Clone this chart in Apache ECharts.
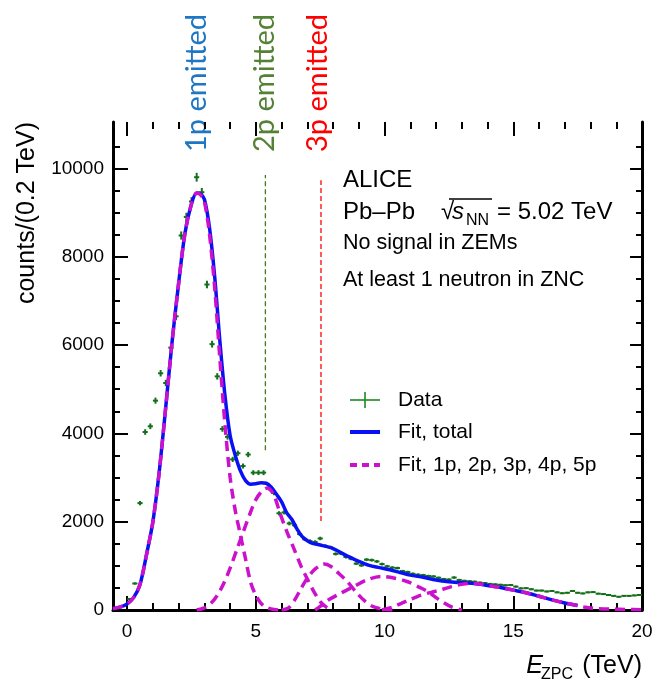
<!DOCTYPE html>
<html><head><meta charset="utf-8">
<script src="https://cdn.jsdelivr.net/npm/echarts@6/dist/echarts.min.js"></script>
<style>html,body{margin:0;padding:0;background:#fff}#c{width:657px;height:684px}</style>
</head><body><div id="c"></div>
<script>
// ---- data ----
const binCenters = [0.1,0.3,0.5,0.7,0.9,1.1,1.3,1.5,1.7,1.9,2.1,2.3,2.5,2.7,2.9,3.1,3.3,3.5,3.7,3.9,
  4.1,4.3,4.5,4.7,4.9,5.1,5.3,5.5,5.7,5.9,6.1,6.3,6.5,6.7,6.9,7.1,7.3,7.5,7.7,7.9,
  8.1,8.3,8.5,8.7,8.9,9.1,9.3,9.5,9.7,9.9,10.1,10.3,10.5,10.7,10.9,11.1,11.3,11.5,11.7,11.9,
  12.1,12.3,12.5,12.7,12.9,13.1,13.3,13.5,13.7,13.9,14.1,14.3,14.5,14.7,14.9,15.1,15.3,15.5,15.7,15.9,
  16.1,16.3,16.5,16.7,16.9,17.1,17.3,17.5,17.7,17.9,18.1,18.3,18.5,18.7,18.9,19.1,19.3,19.5,19.7,19.9];
const dataCounts = [250,600,2420,4030,4160,4740,5360,5140,5940,6650,8480,8900,9250,9800,9460,7370,6020,5290,4100,3920,
  3410,3550,3260,3520,3110,3110,3110,2760,2650,2190,2210,1960,1920,1720,1600,1560,1540,1620,1450,1420,
  1270,1280,1200,1160,1050,1010,1140,1130,1100,1040,990,960,950,880,860,820,800,790,770,760,
  730,700,690,735,680,660,650,640,620,610,590,580,570,560,565,530,490,495,470,440,
  440,420,430,400,380,390,430,390,375,400,405,370,360,340,320,300,320,320,330,340];

const fitTotal = [[-0.55,30],[-0.25,70],[0,140],[0.25,280],[0.5,580],[0.75,1250],[1.0,2000],[1.25,3150],[1.5,4600],
  [1.75,6100],[2.0,7400],[2.25,8550],[2.5,9200],[2.7,9440],[2.85,9420],[3.0,9300],[3.2,8650],[3.4,7550],[3.6,6100],
  [3.8,4850],[4.0,3950],[4.2,3500],[4.4,3150],[4.6,2930],[4.8,2850],[5.0,2860],[5.2,2880],[5.4,2870],[5.6,2780],
  [5.8,2620],[6.0,2450],[6.2,2200],[6.4,2050],[6.6,1830],[6.8,1660],[7.0,1570],[7.2,1510],[7.5,1470],[7.8,1430],
  [8.0,1390],[8.3,1300],[8.6,1210],[9.0,1100],[9.4,1010],[9.8,960],[10.2,910],[10.6,850],[11.0,790],[11.5,740],
  [12.0,680],[12.5,640],[13.0,615],[13.5,600],[14.0,555],[14.5,510],[15.0,450],[15.5,390],[16.0,310],[16.5,230],
  [17.0,160],[17.5,100]];
const fit1p = [[-0.55,30],[-0.25,70],[0,140],[0.25,280],[0.5,580],[0.75,1250],[1.0,2000],[1.25,3150],[1.5,4600],
  [1.75,6100],[2.0,7400],[2.25,8550],[2.5,9200],[2.7,9440],[2.85,9400],[3.0,9250],[3.2,8500],[3.4,7300],[3.6,5700],
  [3.8,4200],[4.0,3000],[4.2,2250],[4.4,1700],[4.6,1150],[4.8,620],[5.0,330],[5.2,150],[5.4,60],[5.7,10],[6.0,0]];
const fit2p = [[2.7,0],[3.0,50],[3.25,150],[3.5,330],[3.75,600],[4.0,950],[4.25,1350],[4.5,1750],[4.75,2150],[5.0,2500],
  [5.25,2700],[5.45,2760],[5.7,2600],[5.95,2170],[6.2,1780],[6.47,1400],[6.75,1000],[7.0,700],[7.25,420],[7.5,190],
  [7.75,60],[8.0,0]];
const fit3p = [[6.0,0],[6.25,40],[6.5,220],[6.75,480],[7.0,720],[7.25,900],[7.5,1010],[7.65,1040],[7.9,990],[8.2,840],
  [8.56,640],[8.9,400],[9.2,220],[9.5,90],[9.9,20],[10.3,0]];
const fit4p = [[7.3,0],[7.5,80],[7.8,220],[8.3,380],[8.8,530],[9.3,680],[9.86,760],[10.4,720],[10.9,640],[11.3,530],
  [11.7,410],[12.1,240],[12.6,70],[13.0,0]];
const fit5p = [[9.9,0],[10.3,60],[10.65,150],[11.0,240],[11.43,340],[11.8,400],[12.2,460],[12.6,530],[13.0,580],
  [13.3,600],[13.7,590],[14.0,555],[14.5,510],[15.0,450],[15.5,390],[16.0,310],[16.5,230],[17.0,160],[17.5,100],
  [17.8,60],[18.2,35],[18.8,20],[19.4,12],[20,8]];
const line2p = [[5.37,3620],[5.37,9850]];
const line3p = [[7.53,2014],[7.53,9730]];

const xMajorTicks = [0,5,10,15,20];
const xMinorTicks = [1,2,3,4,6,7,8,9,11,12,13,14,16,17,18,19];
const yMajorTicks = [0,2000,4000,6000,8000,10000];
const yMinorTicks = [500,1000,1500,2500,3000,3500,4500,5000,5500,6500,7000,7500,8500,9000,9500,10500];

// ---- chart ----
const FF = '"Liberation Sans", Arial, sans-serif';
const GREEN = '#13701a', BLUE = '#0a10f4', MAG = '#cc11cc';
const X_MIN = -0.55, X_MAX = 20, Y_MIN = 0, Y_MAX = 11050;
const gridRect = {left:113, right:15, top:122, bottom:74};
const grids = [0,1,2,3].map(() => Object.assign({}, gridRect));
const plain = v => String(v);

function xAx(gi, pos, ticks, len, labels, line) {
  return {gridIndex:gi, type:'value', min:X_MIN, max:X_MAX, position:pos,
    axisLine:{show:line, onZero:false, lineStyle:{color:'#000', width:3}},
    axisTick:{show:true, inside:true, length:len, customValues:ticks, lineStyle:{color:'#000', width:2}},
    axisLabel:labels ? {show:true, customValues:ticks, formatter:plain, fontSize:19, fontFamily:FF, color:'#000', margin:12} : {show:false},
    splitLine:{show:false}};
}
function yAx(gi, pos, ticks, len, labels, line) {
  return {gridIndex:gi, type:'value', min:Y_MIN, max:Y_MAX, position:pos,
    axisLine:{show:line, onZero:false, lineStyle:{color:'#000', width:3}},
    axisTick:{show:true, inside:true, length:len, customValues:ticks, lineStyle:{color:'#000', width:2}},
    axisLabel:labels ? {show:true, customValues:ticks, formatter:plain, fontSize:19, fontFamily:FF, color:'#000', margin:9} : {show:false},
    splitLine:{show:false}};
}

const dataPoints = binCenters.map((x, i) => [x, dataCounts[i]]);

function renderData(params, api) {
  const x = api.value(0), y = api.value(1);
  const c = api.coord([x, y]);
  const l = api.coord([x - 0.1, y]), r = api.coord([x + 0.1, y]);
  const e = Math.sqrt(y);
  const t = api.coord([x, y + e]), b = api.coord([x, y - e]);
  return {type:'group', children:[
    {type:'line', shape:{x1:l[0], y1:c[1], x2:r[0], y2:c[1]}, style:{stroke:GREEN, lineWidth:2}},
    {type:'line', shape:{x1:c[0], y1:t[1], x2:c[0], y2:b[1]}, style:{stroke:GREEN, lineWidth:2}}
  ]};
}

function comp(d) {
  return {type:'line', name:'Fit, 1p, 2p, 3p, 4p, 5p', xAxisIndex:0, yAxisIndex:0, data:d, smooth:0.3,
    symbol:'none', z:4, lineStyle:{color:MAG, width:3.5, type:[10,6]}};
}

const option = {
  animation:false,
  backgroundColor:'#fff',
  grid:grids,
  xAxis:[xAx(0,'bottom',xMajorTicks,14,true,true), xAx(1,'top',xMajorTicks,14,false,false),
         xAx(2,'bottom',xMinorTicks,7,false,false), xAx(3,'top',xMinorTicks,7,false,false)],
  yAxis:[yAx(0,'left',yMajorTicks,15,true,true), yAx(1,'right',yMajorTicks,12,false,true),
         yAx(2,'left',yMinorTicks,7,false,false), yAx(3,'right',yMinorTicks,6,false,false)],
  series:[
    {type:'line', name:'2p line', data:line2p, symbol:'none', z:1, lineStyle:{color:'#3f7a22', width:1.3, type:[5,3]}},
    {type:'line', name:'3p line', data:line3p, symbol:'none', z:1, lineStyle:{color:'#ff0000', width:1.3, type:[5,3]}},
    {type:'custom', name:'Data', data:dataPoints, renderItem:renderData, z:2, itemStyle:{color:GREEN}},
    {type:'line', name:'Fit, total', data:fitTotal, smooth:0.3, symbol:'none', z:3, lineStyle:{color:BLUE, width:3.5}},
    comp(fit1p), comp(fit2p), comp(fit3p), comp(fit4p), comp(fit5p)
  ],
  graphic:[
    // axis titles
    {type:'text', x:27, y:122, rotation:Math.PI/2, style:{text:'counts/(0.2 TeV)', font:'25px '+FF, fill:'#000', align:'right', verticalAlign:'middle'}},
    {type:'text', x:642, y:666, style:{text:'(TeV)', font:'25px '+FF, fill:'#000', align:'right', verticalAlign:'middle'}},
    {type:'text', x:573, y:675, style:{text:'ZPC', font:'16px '+FF, fill:'#000', align:'right', verticalAlign:'middle'}},
    {type:'text', x:543, y:666, style:{text:'E', font:'italic 25px '+FF, fill:'#000', align:'right', verticalAlign:'middle'}},
    // emitted labels
    {type:'text', x:197, y:83, rotation:Math.PI/2, style:{text:'1p emitted', font:'29px Lato', fill:'#1f77c4', align:'center', verticalAlign:'middle'}},
    {type:'text', x:265, y:83, rotation:Math.PI/2, style:{text:'2p emitted', font:'29px Lato', fill:'#548235', align:'center', verticalAlign:'middle'}},
    {type:'text', x:318, y:83, rotation:Math.PI/2, style:{text:'3p emitted', font:'29px Lato', fill:'#ff0000', align:'center', verticalAlign:'middle'}},
    // info text
    {type:'text', x:343, y:180, style:{text:'ALICE', font:'24px '+FF, fill:'#000', align:'left', verticalAlign:'middle'}},
    {type:'text', x:343, y:212, style:{text:'Pb\u2013Pb', font:'24px '+FF, fill:'#000', align:'left', verticalAlign:'middle'}},
    {type:'text', x:441, y:212, style:{text:'\u221A', font:'24px '+FF, fill:'#000', align:'left', verticalAlign:'middle'}},
    {type:'line', shape:{x1:449, y1:199, x2:492, y2:199}, style:{stroke:'#000', lineWidth:1.5}},
    {type:'text', x:452, y:212, style:{text:'s', font:'italic 24px '+FF, fill:'#000', align:'left', verticalAlign:'middle'}},
    {type:'text', x:466, y:221, style:{text:'NN', font:'16px '+FF, fill:'#000', align:'left', verticalAlign:'middle'}},
    {type:'text', x:497, y:212, style:{text:'= 5.02 TeV', font:'24px '+FF, fill:'#000', align:'left', verticalAlign:'middle'}},
    {type:'text', x:343, y:243, style:{text:'No signal in ZEMs', font:'21.5px '+FF, fill:'#000', align:'left', verticalAlign:'middle'}},
    {type:'text', x:343, y:280, style:{text:'At least 1 neutron in ZNC', font:'21.5px '+FF, fill:'#000', align:'left', verticalAlign:'middle'}},
    // legend
    {type:'line', shape:{x1:350, y1:400, x2:380, y2:400}, style:{stroke:'#1e8a1e', lineWidth:1.6}},
    {type:'line', shape:{x1:365, y1:392, x2:365, y2:408}, style:{stroke:'#1e8a1e', lineWidth:1.6}},
    {type:'line', shape:{x1:350, y1:432, x2:380, y2:432}, style:{stroke:BLUE, lineWidth:4}},
    {type:'line', shape:{x1:350, y1:465, x2:380, y2:465}, style:{stroke:MAG, lineWidth:4, lineDash:[7,5]}},
    {type:'text', x:398, y:400, style:{text:'Data', font:'21px '+FF, fill:'#000', align:'left', verticalAlign:'middle'}},
    {type:'text', x:398, y:432, style:{text:'Fit, total', font:'21px '+FF, fill:'#000', align:'left', verticalAlign:'middle'}},
    {type:'text', x:398, y:465, style:{text:'Fit, 1p, 2p, 3p, 4p, 5p', font:'21px '+FF, fill:'#000', align:'left', verticalAlign:'middle'}}
  ]
};
const chart = echarts.init(document.getElementById('c'), null, {renderer:'canvas'});
chart.setOption(option);
</script></body></html>
